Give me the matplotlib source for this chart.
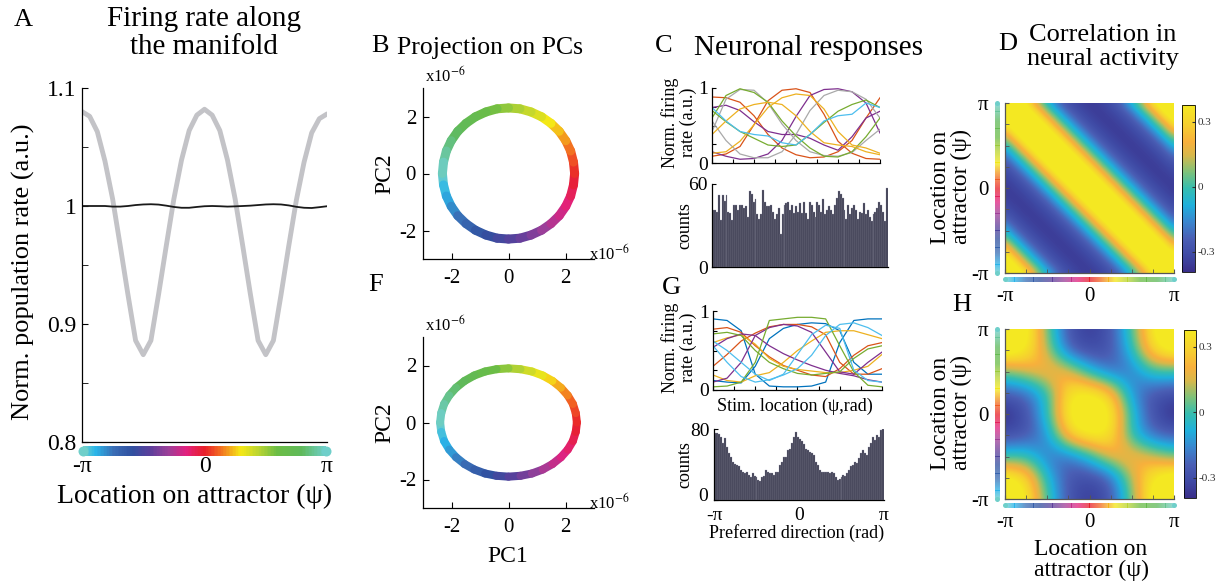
import numpy as np
import matplotlib
matplotlib.use('Agg')
import matplotlib.pyplot as plt
from matplotlib.collections import LineCollection
from matplotlib.colors import LinearSegmentedColormap, Normalize
from matplotlib.transforms import ScaledTranslation

# ---------------- data ----------------
# A: population rate along the attractor (33 samples from -pi to pi)
rate_gray = [1.080, 1.076, 1.063, 1.038, 1.006, 0.966, 0.925, 0.886, 0.874, 0.886, 0.925,
             0.966, 1.006, 1.039, 1.064, 1.077, 1.082, 1.077, 1.064, 1.039, 1.006, 0.966,
             0.925, 0.886, 0.874, 0.886, 0.925, 0.966, 1.005, 1.037, 1.062, 1.074, 1.078]
rate_black = [1.0000, 1.0000, 1.0000, 1.0000, 0.9995, 0.9995, 1.0000, 1.0008, 1.0013, 1.0015,
              1.0012, 1.0003, 0.9992, 0.9985, 0.9985, 0.9992, 0.9998, 1.0000, 0.9998, 0.9995,
              0.9997, 1.0000, 1.0003, 1.0008, 1.0013, 1.0015, 1.0013, 1.0005, 0.9993, 0.9985,
              0.9983, 0.9990, 0.9998]

# B / F: projection on the first two PCs (x1e-6), location psi from -pi to pi
pc1_b = [-2.32, -2.28, -2.18, -2.01, -1.78, -1.49, -1.16, -0.79, -0.40, 0.00, 0.40, 0.79, 1.16,
         1.49, 1.78, 2.01, 2.18, 2.28, 2.32, 2.28, 2.18, 2.01, 1.78, 1.49, 1.16, 0.79, 0.40, 0.00,
         -0.40, -0.79, -1.16, -1.49, -1.78, -2.01, -2.18, -2.28, -2.32]
pc2_b = [0.00, -0.40, -0.79, -1.15, -1.48, -1.76, -1.99, -2.16, -2.27, -2.30, -2.27, -2.16, -1.99,
         -1.76, -1.48, -1.15, -0.79, -0.40, 0.00, 0.40, 0.79, 1.15, 1.48, 1.76, 1.99, 2.16, 2.27,
         2.30, 2.27, 2.16, 1.99, 1.76, 1.48, 1.15, 0.79, 0.40, 0.00]
pc1_f = [-2.40, -2.36, -2.26, -2.08, -1.84, -1.54, -1.20, -0.82, -0.42, 0.00, 0.42, 0.82, 1.20,
         1.54, 1.84, 2.08, 2.26, 2.36, 2.40, 2.36, 2.26, 2.08, 1.84, 1.54, 1.20, 0.82, 0.42, 0.00,
         -0.42, -0.82, -1.20, -1.54, -1.84, -2.08, -2.26, -2.36, -2.40]
pc2_f = [0.00, -0.33, -0.65, -0.95, -1.22, -1.46, -1.65, -1.79, -1.87, -1.90, -1.87, -1.79, -1.65,
         -1.46, -1.22, -0.95, -0.65, -0.33, 0.00, 0.33, 0.65, 0.95, 1.22, 1.46, 1.65, 1.79, 1.87,
         1.90, 1.87, 1.79, 1.65, 1.46, 1.22, 0.95, 0.65, 0.33, 0.00]

# C: tuning curves (13 samples from -pi to pi)
c_curves = {
    '#d95319': [[0.88, 0.87, 0.81, 0.63, 0.38, 0.20, 0.11, 0.07, 0.08, 0.15, 0.30, 0.60, 0.87],
                [0.09, 0.12, 0.22, 0.51, 0.83, 0.97, 0.99, 0.94, 0.65, 0.29, 0.13, 0.06, 0.05]],
    '#7e2f8e': [[0.74, 0.77, 0.70, 0.55, 0.42, 0.38, 0.38, 0.33, 0.24, 0.17, 0.35, 0.60, 0.69],
                [0.15, 0.09, 0.05, 0.06, 0.12, 0.30, 0.62, 0.90, 0.98, 0.99, 0.95, 0.80, 0.40]],
    '#a9a9a9': [[0.42, 0.85, 0.98, 0.97, 0.80, 0.52, 0.30, 0.15, 0.10, 0.09, 0.14, 0.30, 0.45],
                [0.56, 0.30, 0.12, 0.07, 0.07, 0.15, 0.38, 0.70, 0.90, 0.97, 0.95, 0.85, 0.60]],
    '#77ac30': [[0.60, 0.90, 0.99, 0.94, 0.81, 0.56, 0.36, 0.20, 0.09, 0.08, 0.15, 0.35, 0.60],
                [0.70, 0.55, 0.42, 0.33, 0.24, 0.22, 0.24, 0.38, 0.54, 0.69, 0.78, 0.84, 0.74]],
    '#edb120': [[0.13, 0.15, 0.29, 0.51, 0.74, 0.87, 0.92, 0.90, 0.72, 0.42, 0.24, 0.20, 0.13],
                [0.38, 0.56, 0.72, 0.78, 0.81, 0.78, 0.63, 0.42, 0.27, 0.24, 0.22, 0.15, 0.11]],
    '#4dbeee': [[0.74, 0.56, 0.42, 0.38, 0.36, 0.27, 0.24, 0.38, 0.56, 0.63, 0.65, 0.80, 0.74]],
}
c_counts = [41, 41, 40, 52, 34, 52, 48, 52, 40, 39, 34, 45, 45, 41, 45, 45, 43, 44, 36, 55, 53,
            47, 49, 38, 35, 38, 56, 47, 44, 44, 45, 40, 35, 38, 43, 24, 38, 45, 46, 47, 41, 45,
            39, 44, 40, 46, 39, 47, 39, 35, 47, 45, 40, 36, 47, 45, 40, 49, 38, 41, 44, 41, 38,
            45, 50, 55, 53, 50, 41, 35, 45, 38, 43, 45, 41, 35, 40, 39, 46, 38, 41, 36, 33, 38,
            40, 43, 47, 45, 40, 33, 57]

# G: tuning curves with non-uniform preferred directions
g_curves = {
    '#0072bd': [[0.90, 0.88, 0.75, 0.20, 0.05, 0.04, 0.04, 0.05, 0.10, 0.60, 0.88, 0.90, 0.90],
                [0.12, 0.10, 0.09, 0.30, 0.65, 0.78, 0.83, 0.85, 0.84, 0.75, 0.35, 0.20, 0.20]],
    '#d95319': [[0.77, 0.79, 0.73, 0.56, 0.42, 0.31, 0.25, 0.19, 0.17, 0.27, 0.44, 0.56, 0.60],
                [0.30, 0.45, 0.62, 0.72, 0.80, 0.83, 0.83, 0.80, 0.70, 0.35, 0.20, 0.20, 0.27]],
    '#edb120': [[0.60, 0.66, 0.70, 0.58, 0.40, 0.30, 0.26, 0.24, 0.22, 0.22, 0.25, 0.30, 0.45],
                [0.19, 0.12, 0.10, 0.18, 0.22, 0.35, 0.50, 0.62, 0.73, 0.75, 0.75, 0.70, 0.65]],
    '#7e2f8e': [[0.54, 0.65, 0.71, 0.69, 0.56, 0.46, 0.38, 0.31, 0.25, 0.21, 0.18, 0.13, 0.10],
                [0.10, 0.15, 0.35, 0.69, 0.79, 0.83, 0.81, 0.73, 0.48, 0.23, 0.20, 0.35, 0.48]],
    '#77ac30': [[0.04, 0.05, 0.10, 0.35, 0.88, 0.90, 0.92, 0.92, 0.90, 0.56, 0.23, 0.06, 0.04],
                [0.71, 0.73, 0.69, 0.50, 0.35, 0.27, 0.21, 0.19, 0.21, 0.23, 0.40, 0.52, 0.56]],
    '#4dbeee': [[0.56, 0.35, 0.17, 0.10, 0.13, 0.19, 0.27, 0.44, 0.69, 0.83, 0.85, 0.79, 0.69],
                [0.62, 0.50, 0.35, 0.20, 0.12, 0.20, 0.45, 0.70, 0.82, 0.78, 0.25, 0.12, 0.10]],
}
g_counts = [75, 75, 74, 71, 64, 70, 60, 53, 49, 43, 41, 39, 38, 34, 32, 30, 32, 28, 26, 30, 27,
            26, 22, 21, 26, 27, 34, 32, 30, 30, 28, 31, 32, 39, 43, 49, 48, 56, 58, 64, 71, 77,
            71, 69, 66, 63, 57, 56, 54, 53, 51, 43, 39, 34, 32, 31, 32, 31, 30, 31, 30, 26, 22,
            24, 26, 28, 27, 30, 34, 38, 39, 43, 42, 47, 53, 56, 53, 51, 60, 64, 71, 68, 73, 71,
            79, 80]

# D: correlation as a function of location offset (17 steps of pi/8 from -pi to pi)
corr_profile_d = [-0.36, -0.34, -0.30, -0.22, -0.05, 0.12, 0.38, 0.48, 0.50, 0.48, 0.38, 0.12,
                  -0.05, -0.22, -0.30, -0.34, -0.36]
# H: correlation grid, rows psi = pi .. -pi, columns psi = -pi .. pi (steps of pi/4)
corr_grid_h = [
    [0.55, 0.45, 0.05, -0.28, -0.36, -0.28, 0.02, 0.40, 0.55],
    [0.50, 0.40, 0.12, -0.25, -0.32, -0.28, -0.05, 0.35, 0.45],
    [0.05, 0.15, 0.25, 0.20, -0.05, -0.22, -0.20, 0.00, -0.02],
    [-0.25, -0.22, -0.05, 0.38, 0.42, 0.30, -0.15, -0.28, -0.30],
    [-0.40, -0.30, -0.03, 0.42, 0.50, 0.42, -0.03, -0.30, -0.40],
    [-0.30, -0.28, -0.15, 0.30, 0.42, 0.38, -0.05, -0.22, -0.25],
    [-0.02, 0.00, -0.20, -0.22, -0.05, 0.20, 0.25, 0.15, 0.05],
    [0.45, 0.35, -0.05, -0.28, -0.32, -0.25, 0.12, 0.40, 0.50],
    [0.55, 0.40, 0.02, -0.28, -0.36, -0.28, 0.05, 0.45, 0.55],
]
clim = (-0.394, 0.377)

# ---------------- colours ----------------
att_nodes = [-1.0, -0.9, -0.75, -0.6, -0.45, -0.3, -0.15, 0.0, 0.12, 0.3, 0.45, 0.6, 0.8, 1.0]
att_hex = ['#6fcfca', '#2ab5e9', '#3a6db5', '#3050a0', '#5b3f9b', '#9c3f99', '#e2217f',
           '#e8202a', '#f26522', '#f5e816', '#b9d432', '#6cbd45', '#5fb95a', '#6fcfca']
att_cmap = LinearSegmentedColormap.from_list('att', list(zip([(v + 1) / 2 for v in att_nodes], att_hex)))

par_pos = [0.0, 0.10, 0.20, 0.30, 0.40, 0.50, 0.60, 0.70, 0.78, 0.88, 1.0]
par_hex = ['#3a2f8a', '#3f4aa5', '#4a5fb5', '#3a86cf', '#1fb0dc', '#35bdb0', '#7ec27a',
           '#d8b84a', '#f8b03c', '#f6cf30', '#f4e822']
parula = LinearSegmentedColormap.from_list('parula_print', list(zip(par_pos, par_hex)))

# ---------------- figure ----------------
plt.rcParams['font.family'] = ['Liberation Serif', 'DejaVu Serif']
plt.rcParams['mathtext.fontset'] = 'stix'
plt.rcParams['xtick.direction'] = 'in'
plt.rcParams['ytick.direction'] = 'in'
plt.rcParams['axes.linewidth'] = 0.9

W, H = 1220, 587
fig = plt.figure(figsize=(W / 100, H / 100), dpi=100)


def px(l, t, w, h):
    return [l / W, 1 - (t + h) / H, w / W, h / H]


def ftext(x, y, s, **kw):
    return fig.text(x / W, 1 - y / H, s, **kw)


def clean(ax):
    ax.spines['top'].set_visible(False)
    ax.spines['right'].set_visible(False)


def strip(rect, vertical=False, lw=7):
    ax = fig.add_axes(px(*rect))
    t = np.linspace(-np.pi, np.pi, 161)
    if vertical:
        pts = np.column_stack([np.zeros_like(t), t])
        ax.set_xlim(-1, 1)
        ax.set_ylim(-np.pi, np.pi)
    else:
        pts = np.column_stack([t, np.zeros_like(t)])
        ax.set_xlim(-np.pi, np.pi)
        ax.set_ylim(-1, 1)
    segs = np.stack([pts[:-1], pts[1:]], axis=1)
    cols = att_cmap((t[:-1] + t[1:]) / 2 / (2 * np.pi) + 0.5)
    ax.add_collection(LineCollection(segs, colors=cols, linewidths=lw, capstyle='butt', clip_on=False))
    for p, c in ((pts[0], att_cmap(0.0)), (pts[-1], att_cmap(1.0))):
        ax.plot(p[0], p[1], 'o', ms=lw, color=c, mec='none', clip_on=False)
    ax.axis('off')
    return ax


def ring(ax, pc1, pc2, lw):
    pts = np.column_stack([pc1, pc2])
    psi = np.arctan2(pts[:, 1], pts[:, 0])
    segs = np.stack([pts[:-1], pts[1:]], axis=1)
    mid = np.angle(np.exp(1j * psi[:-1]) + np.exp(1j * psi[1:]))
    cols = att_cmap(mid / (2 * np.pi) + 0.5)
    ax.add_collection(LineCollection(segs, colors=cols, linewidths=lw, capstyle='round'))


pi_labels = ['-π', '0', 'π']
pi_ticks = [-np.pi, 0, np.pi]

# ---- A ----
axA = fig.add_axes(px(82, 88, 245, 354))
xa = np.linspace(-np.pi, np.pi, len(rate_gray))
axA.plot(xa, rate_gray, color='#c3c3c7', lw=3.5, solid_capstyle='round', solid_joinstyle='round')
axA.plot(xa, rate_black, color='#1a1a1a', lw=1.3)
axA.set_xlim(-np.pi, np.pi)
axA.set_ylim(0.8, 1.1)
axA.set_yticks([0.8, 0.9, 1.0, 1.1])
axA.set_yticklabels(['0.8', '0.9', '1', '1.1'], fontsize=17)
axA.set_yticks([0.85, 0.95, 1.05], minor=True)
axA.tick_params(axis='y', which='both', length=4, pad=4)
axA.set_xticks(pi_ticks)
axA.set_xticklabels(pi_labels, fontsize=17)
axA.tick_params(axis='x', length=0, pad=10)
clean(axA)
strip((83, 441, 243, 20), lw=7.2)
ftext(23, 272, 'Norm. population rate (a.u.)', fontsize=19, rotation=90, ha='center', va='center')
ftext(195, 496, 'Location on attractor (ψ)', fontsize=20, ha='center', va='center')
ftext(204, 33, 'Firing rate along\nthe manifold', fontsize=21, ha='center', va='center', linespacing=1.05)
ftext(23, 20, 'A', fontsize=19, ha='center', va='center')

# ---- B and F ----
for top, pc1, pc2, lw in ((88, pc1_b, pc2_b, 6.5), (337, pc1_f, pc2_f, 5.8)):
    ax = fig.add_axes(px(423, top, 171, 171))
    ring(ax, pc1, pc2, lw)
    ax.set_xlim(-3, 3)
    ax.set_ylim(-3, 3)
    ax.set_xticks([-2, 0, 2])
    ax.set_yticks([-2, 0, 2])
    ax.set_xticklabels(['-2', '0', '2'], fontsize=15)
    ax.set_yticklabels(['-2', '0', '2'], fontsize=15)
    ax.tick_params(axis='x', length=4, pad=7)
    ax.tick_params(axis='y', length=4, pad=5)
    clean(ax)
    ftext(385, top + 86, 'PC2', fontsize=17, rotation=90, ha='center', va='center')
    ftext(425, top - 2, 'x10$^{-6}$', fontsize=12, ha='left', va='bottom')
    ftext(589, top + 166, 'x10$^{-6}$', fontsize=12, ha='left', va='center')
ftext(508, 557, 'PC1', fontsize=17, ha='center', va='center')
ftext(490, 48, 'Projection on PCs', fontsize=18.5, ha='center', va='center')
ftext(380, 46, 'B', fontsize=19, ha='center', va='center')
ftext(376, 285, 'F', fontsize=19, ha='center', va='center')

# ---- C and G ----
xc = np.linspace(-np.pi, np.pi, 13)
for rect, curves in (((712, 88, 168, 75), c_curves), ((713, 311, 169, 79), g_curves)):
    ax = fig.add_axes(px(*rect))
    for col, lst in curves.items():
        for y in lst:
            ax.plot(xc, y, color=col, lw=0.9)
    ax.set_xlim(-np.pi, np.pi)
    ax.set_ylim(0, 1)
    ax.set_xticks(np.arange(-4, 5) * np.pi / 4)
    ax.set_xticklabels([])
    ax.set_yticks([0, 0.25, 0.5, 0.75, 1])
    ax.set_yticklabels(['0', '', '', '', '1'], fontsize=14)
    ax.tick_params(length=3, pad=3)
    clean(ax)
    ftext(679, rect[1] + rect[3] / 2 - 3, 'Norm. firing\nrate (a.u.)', fontsize=13, rotation=90,
          ha='center', va='center', linespacing=1.0)

for rect, counts, ymax, xlab in (((712, 184, 176, 83), c_counts, 60, False),
                                 ((714, 429, 170, 71), g_counts, 80, True)):
    ax = fig.add_axes(px(*rect))
    nb = len(counts)
    bw = 2 * np.pi / nb
    centers = -np.pi + bw * (np.arange(nb) + 0.5)
    ax.bar(centers, counts, width=bw, color='#3d3d52', edgecolor='#9a9aaa', linewidth=0.2)
    ax.set_xlim(-np.pi, np.pi)
    ax.set_ylim(0, ymax)
    ax.set_yticks([0, ymax])
    ax.set_yticklabels(['0', str(ymax)], fontsize=14)
    ax.tick_params(axis='y', length=3, pad=3)
    if xlab:
        ax.set_xticks(pi_ticks)
        ax.set_xticklabels(pi_labels, fontsize=14)
        ax.tick_params(axis='x', length=0, pad=5)
        zero = ax.get_yticklabels()[0]
        zero.set_transform(zero.get_transform() + ScaledTranslation(-1 / 72, 4 / 72, fig.dpi_scale_trans))
    else:
        ax.set_xticks([])
    clean(ax)
    ftext(685, rect[1] + rect[3] / 2, 'counts', fontsize=13, rotation=90, ha='center', va='center')
ftext(795, 406, 'Stim. location (ψ,rad)', fontsize=13, ha='center', va='center')
ftext(797, 533, 'Preferred direction (rad)', fontsize=13, ha='center', va='center')
ftext(808, 48, 'Neuronal responses', fontsize=21, ha='center', va='center')
ftext(664, 46, 'C', fontsize=19, ha='center', va='center')
ftext(671, 288, 'G', fontsize=19, ha='center', va='center')

# ---- D and H ----
prof = np.array(corr_profile_d)
m = len(prof) - 1
idx = np.arange(m + 1)
corr_d = prof[(idx[None, :] - idx[:, None] + m // 2) % m]
corr_h = np.array(corr_grid_h)
norm = Normalize(*clim)

for top, mat, cbrect in ((103, corr_d, (1182, 105, 13, 167)), (329, corr_h, (1184, 330, 12, 168))):
    ax = fig.add_axes(px(1005, top, 169, 170))
    n = mat.shape[0]
    h = 2 * np.pi / (n - 1)
    im = ax.imshow(mat, cmap=parula, norm=norm, interpolation='bicubic', aspect='auto',
                   extent=[-np.pi - h / 2, np.pi + h / 2, -np.pi - h / 2, np.pi + h / 2])
    ax.set_xlim(-np.pi, np.pi)
    ax.set_ylim(-np.pi, np.pi)
    ax.set_xticks(pi_ticks)
    ax.set_yticks(pi_ticks)
    ax.set_xticklabels(pi_labels, fontsize=15)
    ax.set_yticklabels(['-π', '0', 'π'], fontsize=15)
    ax.set_xticks(np.arange(-4, 5) * np.pi / 4, minor=True)
    ax.set_yticks(np.arange(-4, 5) * np.pi / 4, minor=True)
    ax.tick_params(which='both', length=3, color='#555555')
    ax.tick_params(axis='x', pad=10)
    ax.tick_params(axis='y', pad=12)
    clean(ax)
    for s in ('left', 'bottom'):
        ax.spines[s].set_color('#555555')
    strip((992, top, 10, 170), vertical=True, lw=3.6)
    strip((1005, top + 171, 169, 10), lw=3.6)
    cax = fig.add_axes(px(*cbrect))
    cb = fig.colorbar(im, cax=cax)
    cb.set_ticks([-0.3, 0, 0.3])
    cb.set_ticklabels(['-0.3', '0', '0.3'])
    cb.ax.tick_params(labelsize=8, length=2, pad=2, colors='#333333')
    cb.outline.set_linewidth(0.6)
    ftext(951, top + 84, 'Location on\nattractor (ψ)', fontsize=17, rotation=90, ha='center',
          va='center', linespacing=1.05)
ftext(1091, 560, 'Location on\nattractor (ψ)', fontsize=17, ha='center', va='center', linespacing=1.05)
ftext(1103, 47, 'Correlation in\nneural activity', fontsize=19, ha='center', va='center', linespacing=1.1)
ftext(1008, 44, 'D', fontsize=19, ha='center', va='center')
ftext(962, 305, 'H', fontsize=19, ha='center', va='center')

fig.savefig('out.png', dpi=100)
